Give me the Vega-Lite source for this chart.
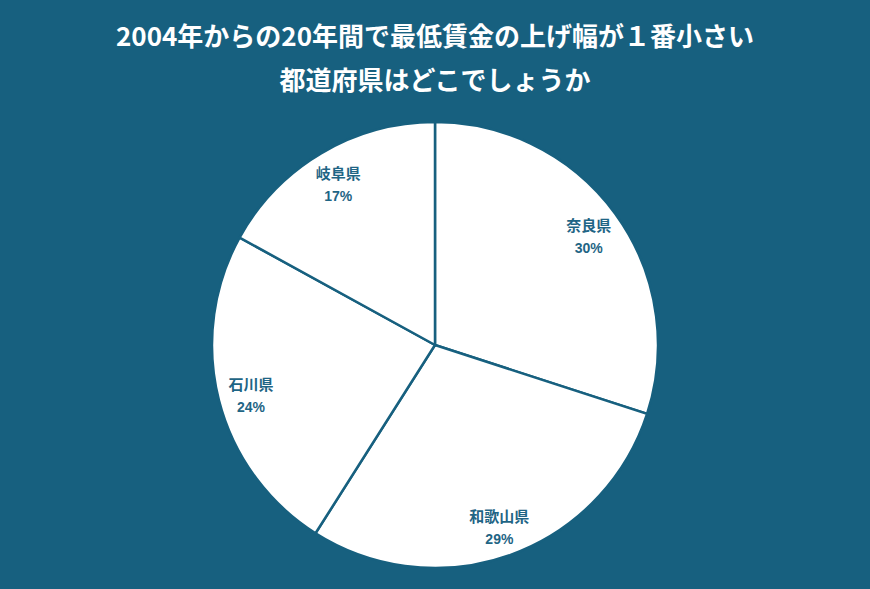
{
  "$schema": "https://vega.github.io/schema/vega-lite/v6.json",
  "width": 870,
  "height": 446,
  "autosize": "none",
  "padding": {"top": 122, "left": 0, "right": 0, "bottom": 21},
  "background": "#17607f",
  "view": {"stroke": null},
  "title": {
    "text": ["2004年からの20年間で最低賃金の上げ幅が１番小さい", "都道府県はどこでしょうか"],
    "anchor": "middle",
    "frame": "group",
    "font": "Noto Sans CJK JP",
    "fontSize": 26,
    "fontWeight": "bold",
    "color": "#ffffff",
    "lineHeight": 44,
    "offset": 26,
    "dy": 4
  },
  "data": {
    "values": [
      {"idx": 1, "pref": "奈良県", "pct": 30},
      {"idx": 2, "pref": "和歌山県", "pct": 29},
      {"idx": 3, "pref": "石川県", "pct": 24},
      {"idx": 4, "pref": "岐阜県", "pct": 17}
    ]
  },
  "transform": [{"calculate": "datum.pct + '%'", "as": "pct_label"}],
  "encoding": {
    "theta": {"field": "pct", "type": "quantitative", "stack": true},
    "order": {"field": "idx", "type": "quantitative"}
  },
  "layer": [
    {
      "mark": {"type": "arc", "radius": 223, "fill": "#ffffff", "stroke": "#17607f", "strokeWidth": 2.5}
    },
    {
      "mark": {"type": "text", "radius": 190, "dy": -7, "font": "Noto Sans CJK JP", "fontSize": 15, "fontWeight": "bold", "fill": "#1f6585"},
      "encoding": {"text": {"field": "pref", "type": "nominal"}}
    },
    {
      "mark": {"type": "text", "radius": 190, "dy": 16, "font": "Liberation Sans", "fontSize": 14, "fontWeight": "bold", "fill": "#1f6585"},
      "encoding": {"text": {"field": "pct_label", "type": "nominal"}}
    }
  ]
}
